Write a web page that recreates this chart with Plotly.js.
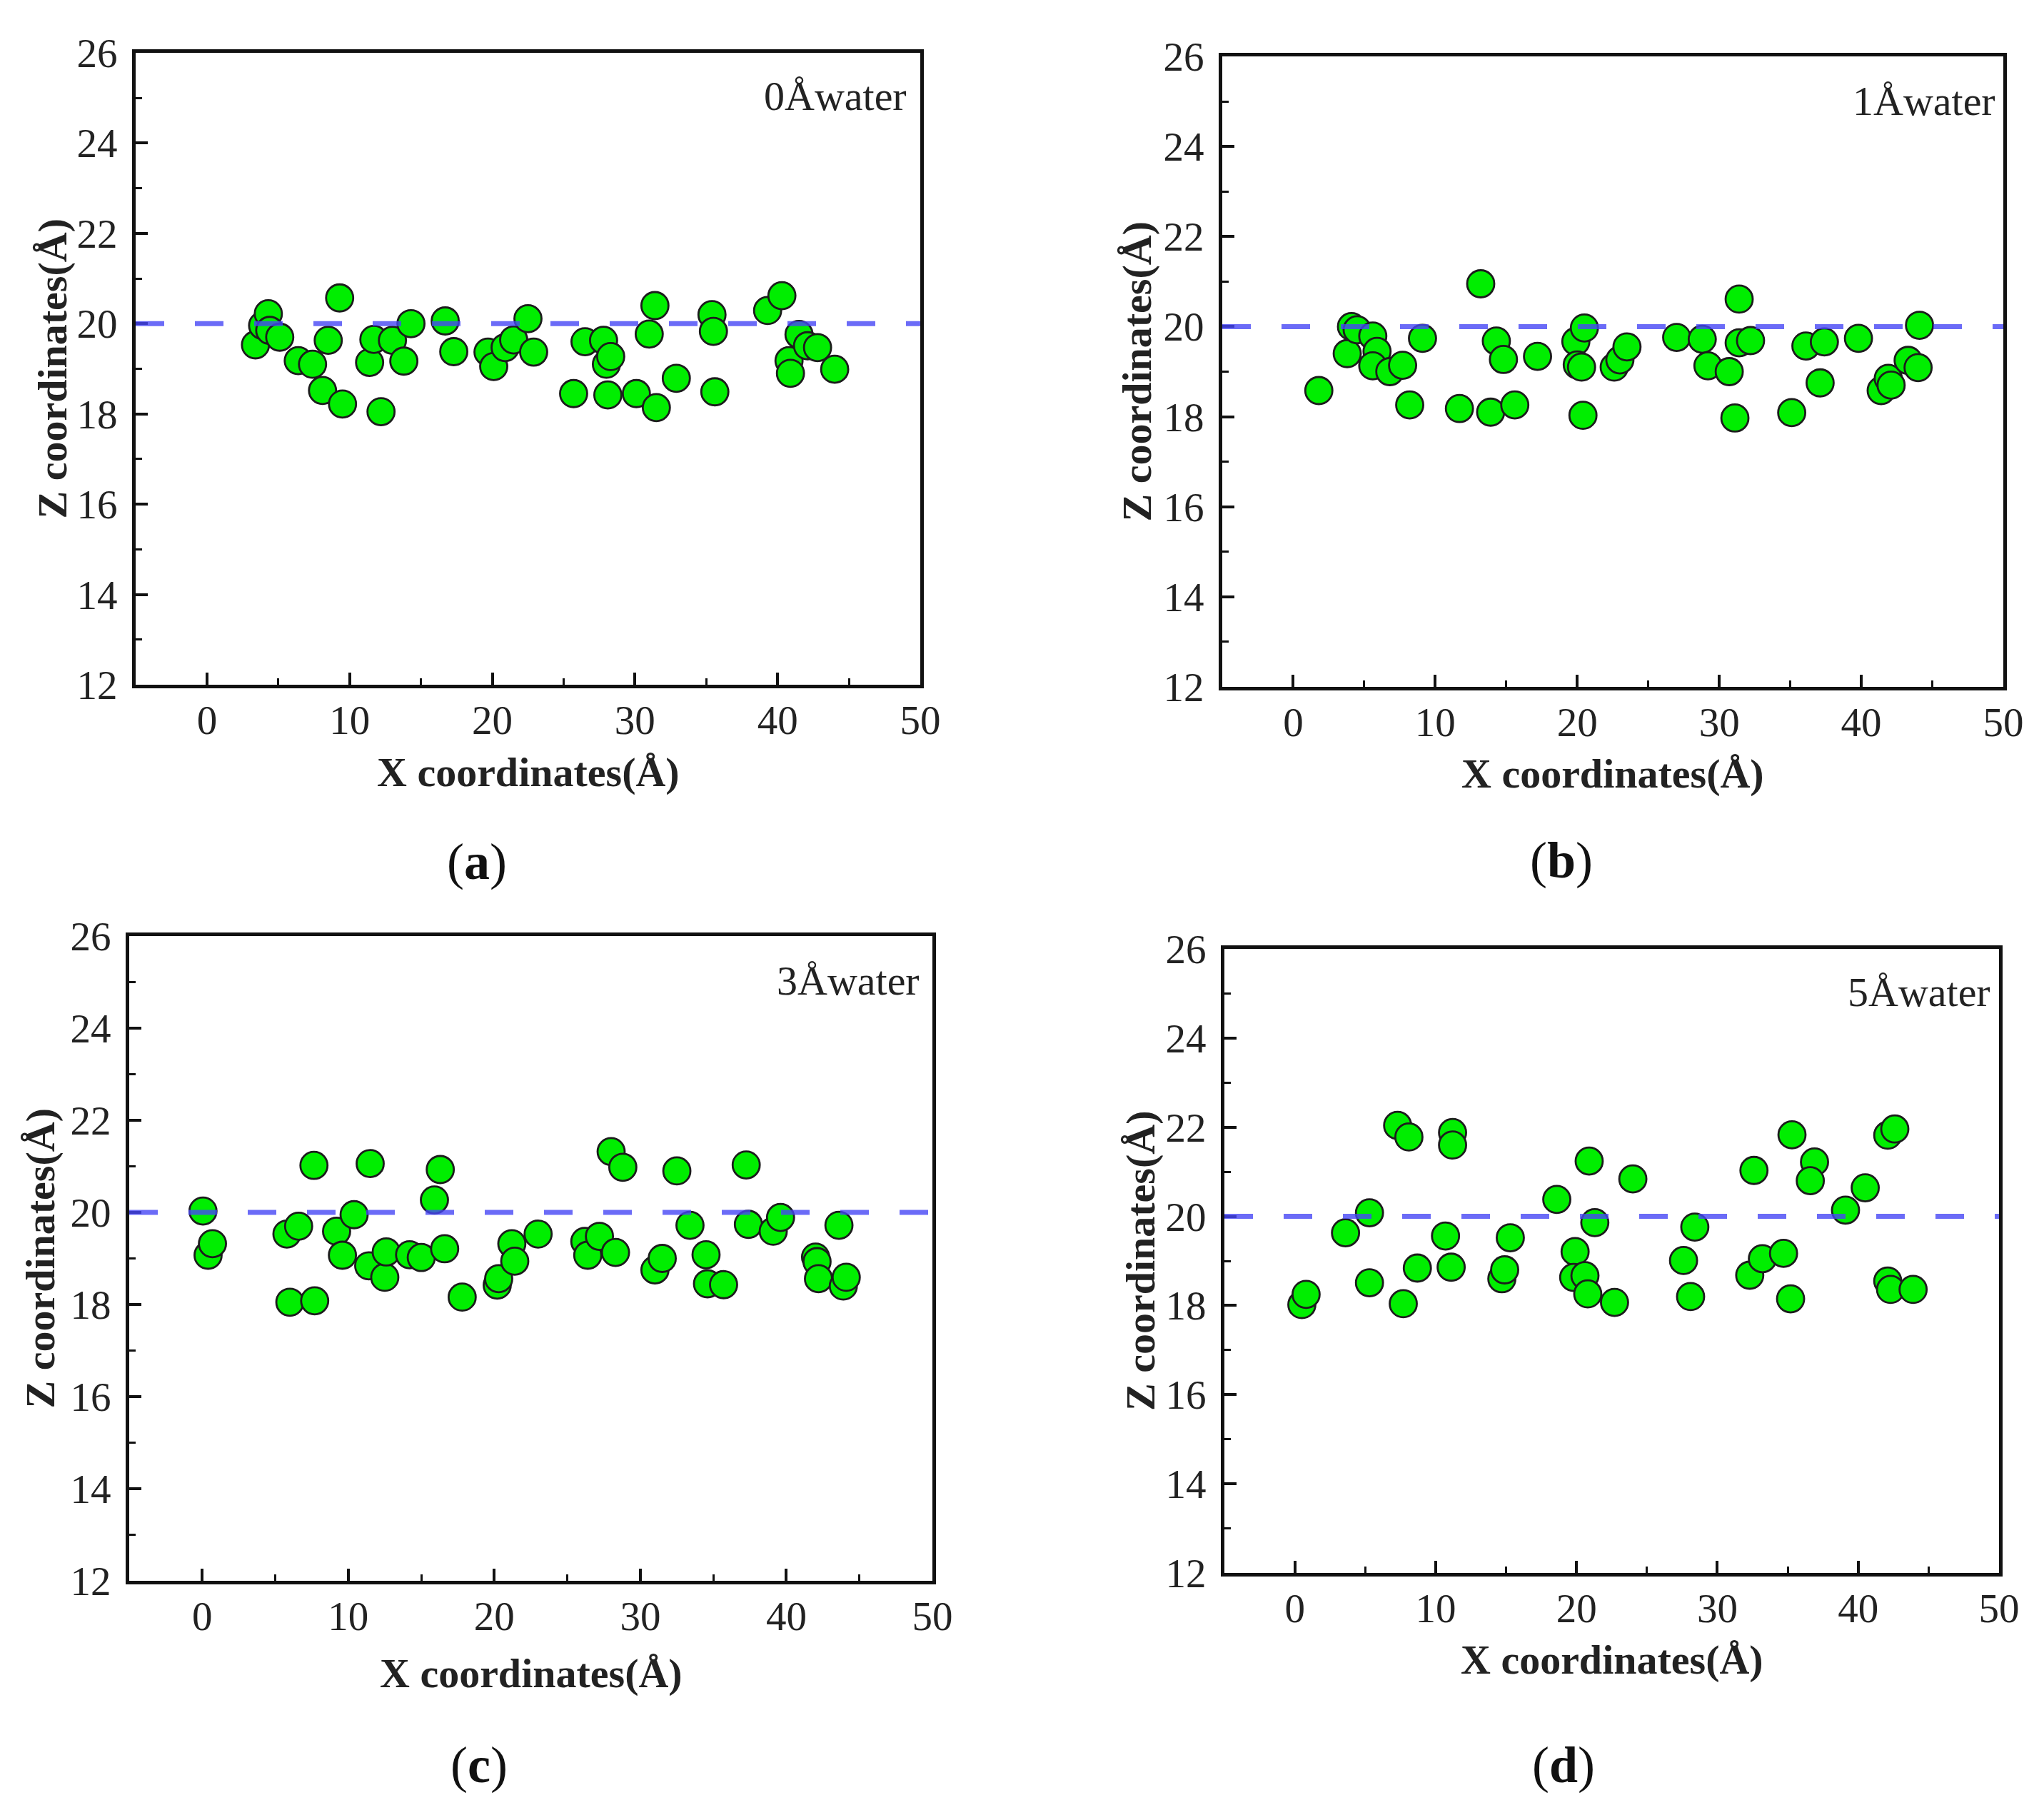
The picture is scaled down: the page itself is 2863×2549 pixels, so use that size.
<!DOCTYPE html>
<html>
<head>
<meta charset="utf-8">
<title>Z coordinates vs X coordinates</title>
<script src="https://cdn.plot.ly/plotly-3.0.1.min.js"></script>
<style>
  html, body { margin: 0; padding: 0; background: #fff; }
  #chart { width: 2863px; height: 2549px; }
</style>
</head>
<body>
<div id="chart"></div>
<script>
/* ---------------------------- data ---------------------------- */

const PANEL_NAMES = ["0Åwater", "1Åwater", "3Åwater", "5Åwater"];
const PANEL_TAGS = ["a", "b", "c", "d"];

const X_TICKS = [0, 10, 20, 30, 40, 50];
const X_MINOR = [5, 15, 25, 35, 45];
const Y_TICKS = [12, 14, 16, 18, 20, 22, 24, 26];
const Y_MINOR = [13, 15, 17, 19, 21, 23, 25];
const REF_Z = 20;

const X_0 = [3.4, 3.9, 4.3, 4.4, 5.1, 6.4, 7.4, 8.1, 8.5, 9.3, 9.5, 11.4, 11.7, 12.2, 13.0, 13.8,
  14.3, 16.7, 17.3, 19.7, 20.1, 20.9, 21.5, 22.5, 22.9, 25.7, 26.5, 27.8, 28.0, 28.3, 28.1, 30.1,
  31.0, 31.4, 31.5, 32.9, 35.4, 35.5, 35.6, 39.3, 40.3, 40.8, 40.9, 41.5, 42.1, 42.8, 44.0];
const Z_0 = [19.53, 19.96, 20.22, 19.85, 19.70, 19.18, 19.10, 18.52, 19.63, 20.57, 18.22, 19.14, 19.65, 18.05, 19.63, 19.17,
  20.00, 20.06, 19.38, 19.37, 19.05, 19.47, 19.64, 20.11, 19.37, 18.45, 19.60, 19.63, 19.10, 19.27, 18.42, 18.45,
  19.77, 20.40, 18.14, 18.79, 20.20, 19.83, 18.49, 20.29, 20.62, 19.18, 18.90, 19.76, 19.51, 19.47, 18.99];

const X_1 = [1.8, 3.8, 4.1, 4.5, 5.6, 5.9, 5.6, 6.8, 7.7, 8.2, 9.1, 11.7, 13.2, 13.9, 14.3, 14.8,
  15.6, 17.2, 19.9, 20.0, 20.5, 20.3, 20.4, 22.6, 23.0, 23.5, 27.0, 28.8, 29.2, 30.7, 31.1, 31.4,
  31.4, 32.2, 35.1, 36.1, 37.4, 37.1, 39.8, 41.4, 41.9, 42.1, 43.3, 44.0, 44.1];
const Z_1 = [18.58, 19.40, 20.00, 19.93, 19.79, 19.45, 19.13, 19.00, 19.14, 18.26, 19.74, 18.18, 20.95, 18.10, 19.68, 19.27,
  18.26, 19.34, 19.67, 19.15, 19.97, 19.10, 18.03, 19.10, 19.26, 19.55, 19.76, 19.72, 19.13, 19.00, 17.97, 20.61,
  19.64, 19.69, 18.09, 19.57, 19.66, 18.75, 19.74, 18.58, 18.85, 18.70, 19.25, 19.09, 20.03];

const X_3 = [0.05, 0.4, 0.7, 5.8, 6.6, 6.0, 7.7, 7.65, 9.2, 9.6, 10.4, 11.5, 11.4, 12.5, 12.6, 14.2,
  15.0, 15.9, 16.3, 16.6, 17.8, 20.2, 20.3, 21.2, 21.4, 23.0, 26.2, 26.4, 27.2, 28.3, 28.0, 28.8,
  31.0, 31.5, 32.5, 33.4, 34.5, 34.6, 35.7, 37.25, 37.4, 39.1, 39.6, 42.0, 42.1, 42.2, 43.6, 43.9, 44.1];
const Z_3 = [20.03, 19.07, 19.32, 19.53, 19.70, 18.05, 18.08, 21.02, 19.59, 19.07, 19.95, 21.06, 18.84, 18.59, 19.14, 19.08,
  19.02, 20.27, 20.93, 19.21, 18.16, 18.42, 18.56, 19.32, 18.94, 19.53, 19.37, 19.07, 19.48, 19.13, 21.32, 20.98,
  18.75, 19.00, 20.90, 19.72, 19.08, 18.45, 18.43, 21.03, 19.74, 19.59, 19.89, 19.03, 18.93, 18.56, 19.72, 18.40, 18.59];

const X_5 = [0.5, 0.8, 3.6, 5.3, 5.3, 7.3, 8.1, 7.7, 8.7, 11.2, 11.2, 10.7, 11.1, 14.7, 14.9, 15.3,
  18.6, 20.9, 21.3, 19.9, 19.8, 20.6, 20.8, 22.7, 24.0, 27.6, 28.4, 28.1, 32.6, 32.3, 33.2, 34.7,
  35.2, 35.3, 36.9, 36.6, 39.1, 40.5, 42.1, 42.6, 42.1, 42.3, 43.9];
const Z_5 = [18.02, 18.25, 19.63, 20.08, 18.51, 22.04, 21.78, 18.04, 18.84, 21.88, 21.60, 19.56, 18.86, 18.60, 18.80, 19.52,
  20.38, 21.24, 19.86, 19.21, 18.63, 18.67, 18.26, 18.07, 20.84, 19.01, 19.76, 18.20, 21.03, 18.68, 19.05, 19.17,
  18.15, 21.83, 21.22, 20.80, 20.14, 20.64, 21.82, 21.96, 18.55, 18.36, 18.36];

const SERIES_X = [X_0, X_1, X_3, X_5];
const SERIES_Z = [Z_0, Z_1, Z_3, Z_5];

/* --------------------------- layout --------------------------- */

const W = 2863;
const H = 2549;
const SERIF = "Liberation Serif";
const INK = "#222";

// plot boxes in picture pixels: [left, right, top, bottom]
const BOXES = [
  [190, 1289, 74, 959],
  [1712, 2806, 79, 962],
  [181, 1306, 1311, 2214],
  [1715, 2800, 1329, 2203],
];
// x-title y, y-title x, water label [right, y], panel tag [x, y]
const X_TITLE_Y = [1081, 1083, 2343, 2324];
const Y_TITLE_X = [73, 1592, 56, 1597];
const NAME_POS = [[1272, 134], [2797, 141], [1290, 1374], [2790, 1389]];
const TAG_POS = [[668, 1207], [2187, 1205], [671, 2472], [2190, 2472]];

const fx = (px) => px / W;
const fy = (py) => 1 - py / H;

function axisBase() {
  return {
    showline: true,
    linecolor: "#111",
    linewidth: 5,
    mirror: true,
    showgrid: false,
    zeroline: false,
    ticks: "inside",
    ticklen: 17,
    tickwidth: 4,
    tickcolor: "#111",
    tickfont: { family: SERIF, size: 57, color: INK, weight: "normal" },
  };
}

const traces = [];
const layout = {
  width: W,
  height: H,
  margin: { l: 0, r: 0, t: 0, b: 0 },
  font: { family: SERIF, color: INK },
  paper_bgcolor: "#fff",
  plot_bgcolor: "#fff",
  showlegend: false,
  shapes: [],
  annotations: [],
};

BOXES.forEach((box, i) => {
  const n = i === 0 ? "" : String(i + 1);
  const [l, r, t, b] = box;

  layout["xaxis" + n] = Object.assign(axisBase(), {
    domain: [fx(l), fx(r)],
    anchor: "y" + n,
    range: [-5, 50],
    tickmode: "array",
    tickvals: X_TICKS,
    ticktext: X_TICKS.map(String),
    ticklabelstandoff: -4,
    minor: { ticks: "inside", tickmode: "array", tickvals: X_MINOR, ticklen: 9, tickwidth: 3, tickcolor: "#111" },
  });
  layout["yaxis" + n] = Object.assign(axisBase(), {
    domain: [fy(b), fy(t)],
    anchor: "x" + n,
    range: [12, 26],
    tickmode: "array",
    tickvals: Y_TICKS,
    ticktext: Y_TICKS.map(String),
    ticklabelstandoff: 9,
    minor: { ticks: "inside", tickmode: "array", tickvals: Y_MINOR, ticklen: 9, tickwidth: 3, tickcolor: "#111" },
  });

  traces.push({
    type: "scatter",
    mode: "markers",
    x: SERIES_X[i],
    y: SERIES_Z[i],
    xaxis: "x" + n,
    yaxis: "y" + n,
    marker: { size: 38, color: "#00ee00", line: { color: "#1c1c1c", width: 2.8 } },
    hoverinfo: "x+y",
  });

  // dashed reference line at z = 20, drawn over the markers
  layout.shapes.push({
    type: "line",
    xref: "x" + n + " domain",
    yref: "y" + n,
    x0: 0,
    x1: 1,
    y0: REF_Z,
    y1: REF_Z,
    layer: "above",
    line: { color: "rgba(70,70,245,0.8)", width: 7, dash: "40px,43px" },
  });

  const ann = layout.annotations;
  ann.push({
    xref: "paper", yref: "paper",
    x: fx((l + r) / 2), y: fy(X_TITLE_Y[i]),
    xanchor: "center", yanchor: "middle",
    text: "<b>X coordinates(Å)</b>",
    showarrow: false,
    font: { family: SERIF, size: 58, color: INK },
  });
  ann.push({
    xref: "paper", yref: "paper",
    x: fx(Y_TITLE_X[i]), y: fy((t + b) / 2),
    xanchor: "center", yanchor: "middle",
    textangle: -90,
    text: "<b>Z coordinates(Å)</b>",
    showarrow: false,
    font: { family: SERIF, size: 58, color: INK },
  });
  ann.push({
    xref: "paper", yref: "paper",
    x: fx(NAME_POS[i][0]), y: fy(NAME_POS[i][1]),
    xanchor: "right", yanchor: "middle",
    text: PANEL_NAMES[i],
    showarrow: false,
    font: { family: SERIF, size: 58, color: INK },
  });
  ann.push({
    xref: "paper", yref: "paper",
    x: fx(TAG_POS[i][0]), y: fy(TAG_POS[i][1]),
    xanchor: "center", yanchor: "middle",
    text: "(<b>" + PANEL_TAGS[i] + "</b>)",
    showarrow: false,
    font: { family: SERIF, size: 72, color: "#111" },
  });
});

Plotly.newPlot("chart", traces, layout, { displayModeBar: false, staticPlot: true });
</script>
</body>
</html>
